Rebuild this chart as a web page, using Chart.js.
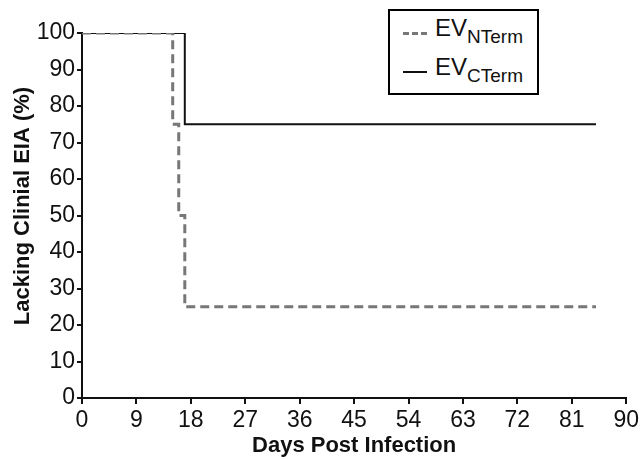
<!DOCTYPE html>
<html><head><meta charset="utf-8">
<script src="https://cdn.jsdelivr.net/npm/chart.js@4/dist/chart.umd.min.js"></script>
<style>
html,body{margin:0;padding:0;background:#fff;}
#wrap{position:relative;width:642px;height:459px;}
#legend{position:absolute;left:388px;top:9px;width:147px;height:82px;border:2px solid #000;background:#fff;font-family:"Liberation Sans",Arial,sans-serif;color:#111;}
.row{position:absolute;left:0;height:36px;}
.sample{position:absolute;left:13px;width:24px;top:18px;height:0;}
.lbl{position:absolute;left:45px;top:0;font-size:24px;white-space:nowrap;}
.lbl sub{font-size:19px;vertical-align:-7px;}
</style></head>
<body><div id="wrap"><canvas id="c" width="642" height="459"></canvas>
<div id="legend">
 <div class="row" style="top:3px;"><div class="sample" style="border-top:3px dashed #777;"></div><div class="lbl">EV<sub>NTerm</sub></div></div>
 <div class="row" style="top:42px;"><div class="sample" style="border-top:2px solid #111;"></div><div class="lbl">EV<sub>CTerm</sub></div></div>
</div></div>
<script>
const daysNTerm = [0, 15, 16, 17, 85];
const valuesNTerm = [100, 75, 50, 25, 25];
const daysCTerm = [0, 17, 85];
const valuesCTerm = [100, 75, 75];
const xTicks = [0, 9, 18, 27, 36, 45, 54, 63, 72, 81, 90];
const yTicks = [0, 10, 20, 30, 40, 50, 60, 70, 80, 90, 100];
const xTitle = 'Days Post Infection';
const yTitle = 'Lacking Clinial EIA (%)';

const toPts = (xs, ys) => xs.map((x, i) => ({x: x, y: ys[i]}));
const tickFont = {family: '"Liberation Sans", Arial, sans-serif', size: 23};
const titleFamily = '"Liberation Sans", Arial, sans-serif';

const yTitlePlugin = {
  id: 'yTitle',
  afterDraw(chart) {
    const ctx = chart.ctx;
    ctx.save();
    ctx.translate(23, 206);
    ctx.rotate(-Math.PI / 2);
    ctx.font = 'bold 22px ' + titleFamily;
    ctx.fillStyle = '#111';
    ctx.textAlign = 'center';
    ctx.textBaseline = 'middle';
    ctx.fillText(yTitle, 0, 0);
    ctx.restore();
  }
};

new Chart(document.getElementById('c'), {
  type: 'line',
  data: {datasets: [
    {label: 'EV NTerm', data: toPts(daysNTerm, valuesNTerm), stepped: true, borderColor: '#777', borderWidth: 3, borderDash: [9, 5], pointRadius: 0, fill: false},
    {label: 'EV CTerm', data: toPts(daysCTerm, valuesCTerm), stepped: true, borderColor: '#111', borderWidth: 2, pointRadius: 0, fill: false}
  ]},
  plugins: [yTitlePlugin],
  options: {
    responsive: false, animation: false,
    layout: {padding: {top: 33, right: 15, left: 0, bottom: 0}},
    plugins: {legend: {display: false}, tooltip: {enabled: false}},
    scales: {
      x: {type: 'linear', min: 0, max: 90,
        afterBuildTicks: s => { s.ticks = xTicks.map(v => ({value: v})); },
        afterFit: s => { s.height = 61; },
        ticks: {color: '#111', font: tickFont, padding: 3, maxRotation: 0, autoSkip: false},
        grid: {display: true, drawOnChartArea: false, drawTicks: true, tickLength: 6, color: '#111', lineWidth: 2},
        border: {display: true, color: '#111', width: 2},
        title: {display: true, text: xTitle, color: '#111', font: {family: titleFamily, size: 22, weight: 'bold'}, padding: {top: 0, bottom: 0}}
      },
      y: {min: 0, max: 100,
        afterBuildTicks: s => { s.ticks = yTicks.map(v => ({value: v})); },
        afterFit: s => { s.width = 82; },
        ticks: {color: '#111', font: tickFont, padding: 2, autoSkip: false},
        grid: {display: true, drawOnChartArea: false, drawTicks: true, tickLength: 5, color: '#111', lineWidth: 2},
        border: {display: true, color: '#111', width: 2},
        title: {display: false}
      }
    }
  }
});
</script></body></html>
